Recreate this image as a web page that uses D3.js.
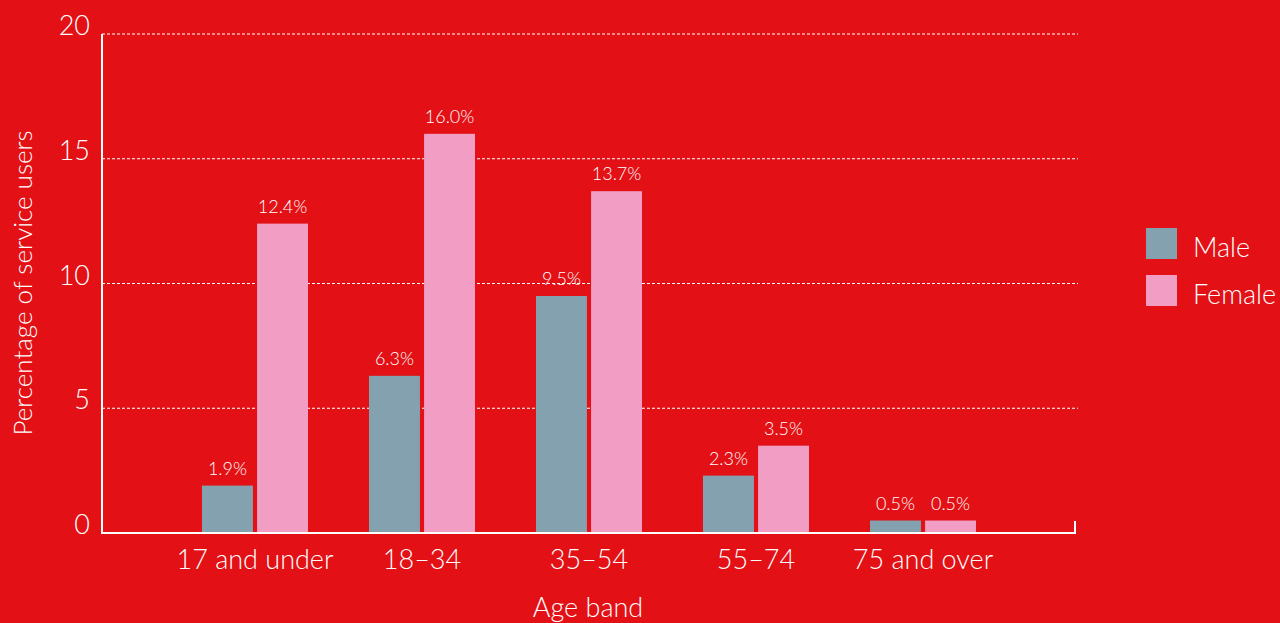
<!DOCTYPE html>
<html>
<head>
<meta charset="utf-8">
<script src="https://cdn.jsdelivr.net/npm/d3@7"></script>
<style>
  body { margin: 0; background: #e31015; }
  text { font-family: Lato, 'Open Sans', sans-serif; font-weight: 300; fill: #fff; }
</style>
</head>
<body>
<script>
// data
var ageBands = ['17 and under', '18–34', '35–54', '55–74', '75 and over']
var male = [1.9, 6.3, 9.5, 2.3, 0.5]
var female = [12.4, 16.0, 13.7, 3.5, 0.5]
var series = ['Male', 'Female']
var yTicks = [0, 5, 10, 15, 20]

var w = 1280
var h = 623
var colors = { Male: '#84a1b0', Female: '#f29dc3' }

var svg = d3.select('body')
  .append('svg')
  .attr('width', w)
  .attr('height', h)

var axisLeft = 102
var axisRight = 1075

var xScale = d3.scaleBand()
  .domain(ageBands)
  .range([171.5, 1006.5])

var inner = d3.scaleBand()
  .domain(series)
  .range([xScale.bandwidth() / 2 - 53, xScale.bandwidth() / 2 + 53])
  .paddingInner(0.075)

var yScale = d3.scaleLinear()
  .domain([0, 20])
  .range([533, 34])

// gridlines
svg.selectAll('line.grid')
  .data(yTicks.slice(1))
  .enter()
  .append('line')
  .attr('class', 'grid')
  .attr('x1', axisLeft)
  .attr('x2', 1078)
  .attr('y1', function (d) { return yScale(d) })
  .attr('y2', function (d) { return yScale(d) })
  .attr('stroke', '#fff')
  .attr('stroke-width', 1)
  .attr('stroke-dasharray', '3,2')

// y tick labels
svg.selectAll('text.ytick')
  .data(yTicks)
  .enter()
  .append('text')
  .attr('class', 'ytick')
  .attr('x', 90)
  .attr('y', function (d) { return yScale(d) + 1 })
  .attr('text-anchor', 'end')
  .attr('font-size', '27px')
  .text(function (d) { return d })

// bars
var rows = ageBands.map(function (b, i) {
  return { band: b, values: [{ s: 'Male', v: male[i] }, { s: 'Female', v: female[i] }] }
})

var groups = svg.selectAll('g.band')
  .data(rows)
  .enter()
  .append('g')
  .attr('transform', function (d) { return 'translate(' + xScale(d.band) + ',0)' })

groups.selectAll('rect')
  .data(function (d) { return d.values })
  .enter()
  .append('rect')
  .attr('x', function (d) { return inner(d.s) })
  .attr('width', inner.bandwidth())
  .attr('y', function (d) { return yScale(d.v) })
  .attr('height', function (d) { return yScale(0) - yScale(d.v) })
  .attr('fill', function (d) { return colors[d.s] })

groups.selectAll('text')
  .data(function (d) { return d.values })
  .enter()
  .append('text')
  .attr('x', function (d) { return inner(d.s) + inner.bandwidth() / 2 })
  .attr('y', function (d) { return yScale(d.v) - 11 })
  .attr('text-anchor', 'middle')
  .attr('font-size', '18px')
  .text(function (d) { return d.v.toFixed(1) + '%' })

// axes lines
svg.append('line')
  .attr('x1', axisLeft).attr('x2', axisLeft)
  .attr('y1', yScale(20)).attr('y2', yScale(0) + 1)
  .attr('stroke', '#fff').attr('stroke-width', 2)

svg.append('path')
  .attr('d', 'M' + (axisLeft - 1) + ',' + yScale(0) + 'H' + axisRight + 'V' + (yScale(0) - 12))
  .attr('fill', 'none')
  .attr('stroke', '#fff').attr('stroke-width', 2)

// category labels
svg.selectAll('text.xlab')
  .data(ageBands)
  .enter()
  .append('text')
  .attr('class', 'xlab')
  .attr('x', function (d) { return xScale(d) + xScale.bandwidth() / 2 })
  .attr('y', 569)
  .attr('text-anchor', 'middle')
  .attr('font-size', '27px')
  .text(function (d) { return d })

// axis titles
svg.append('text')
  .attr('x', 588)
  .attr('y', 617)
  .attr('text-anchor', 'middle')
  .attr('font-size', '27px')
  .text('Age band')

svg.append('text')
  .attr('transform', 'translate(32,283) rotate(-90)')
  .attr('text-anchor', 'middle')
  .attr('font-size', '26px')
  .text('Percentage of service users')

// legend
var legend = svg.selectAll('g.legend')
  .data(series)
  .enter()
  .append('g')
  .attr('transform', function (d, i) { return 'translate(1146,' + (228 + i * 47) + ')' })

legend.append('rect')
  .attr('width', 31)
  .attr('height', 31)
  .attr('fill', function (d) { return colors[d] })

legend.append('text')
  .attr('x', 47)
  .attr('y', 29)
  .attr('font-size', '27px')
  .text(function (d) { return d })
</script>
</body>
</html>
